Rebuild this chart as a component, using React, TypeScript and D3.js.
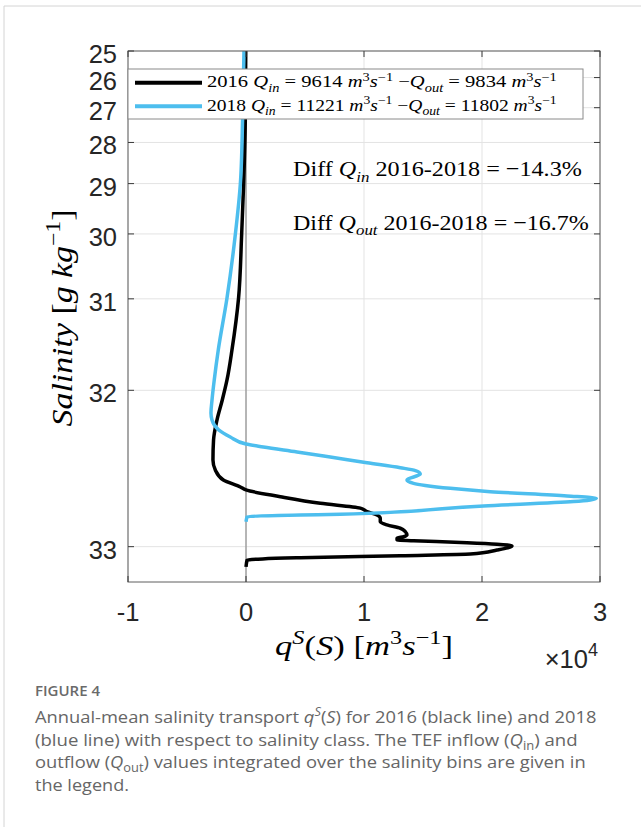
import * as React from 'react';
import { useLayoutEffect, useRef } from 'react';
import * as d3 from 'd3';

// salinity classes on the y axis and transport ticks (x 10^4 m3/s) on the x axis
const salinityTicks = [25, 26, 27, 28, 29, 30, 31, 32, 33];
const transportTicks = [-1, 0, 1, 2, 3];

// 2016 (black line): salinity [g/kg] and q^S [m3/s]
const salinity2016 = [25.0, 27.371, 29.009, 30.019, 30.989, 31.609, 31.906, 32.084, 32.247, 32.395, 32.531, 32.595, 32.656, 32.697, 32.714, 32.752, 32.788, 32.814, 32.832, 32.849, 32.866, 32.883, 32.899, 32.915, 32.931, 32.947, 32.955, 32.962, 32.970, 32.973, 32.982, 32.989, 32.997, 33.015, 33.032, 33.039, 33.048, 33.057, 33.086];
const transport2016 = [-20, -60, -200, -370, -630, -1190, -1610, -2010, -2460, -2750, -2800, -2600, -1920, -480, 0, 2910, 6300, 9690, 10250, 11100, 11380, 11380, 11950, 13080, 13500, 13640, 13360, 12800, 12800, 14200, 18730, 21270, 22540, 21270, 19010, 13080, 4600, 100, 0];

// 2018 (blue line)
const salinity2018 = [25.0, 27.371, 29.009, 30.019, 30.989, 31.609, 31.906, 32.084, 32.191, 32.247, 32.322, 32.374, 32.424, 32.444, 32.478, 32.512, 32.549, 32.581, 32.599, 32.620, 32.656, 32.676, 32.688, 32.705, 32.724, 32.748, 32.761, 32.779, 32.802, 32.846, 32.849, 32.858, 32.883];
const transport2018 = [-170, -290, -480, -910, -1610, -2350, -2690, -2880, -2970, -2880, -2320, -1330, 0, 1470, 4320, 7140, 10250, 13080, 14350, 14770, 13640, 14200, 15190, 17310, 20700, 27200, 29690, 27760, 20140, 7990, 4600, 100, 0];

const years = ['2016', '2018'];
const qIn = ['9614', '11221'];
const qOut = ['9834', '11802'];
const lineColors = ['#000000', '#4DBEEE'];
const diffIn = '−14.3%';
const diffOut = '−16.7%';

const W = 641;
const H = 827;
const left = 128;
const right = 600;
const top = 51;
const bottom = 582;

const serif = '"Liberation Serif", "Times New Roman", serif';
const sans = '"Liberation Sans", Arial, sans-serif';
const captionFont = '"Open Sans", sans-serif';

// the salinity axis is stretched like log(34 - S)
const salRef = 34;
const yLog = d3.scaleLog().domain([salRef - 25, salRef - 33.145]).range([top, bottom]);
const y = (s: number) => yLog(salRef - s);
const x = d3.scaleLinear().domain([-10000, 30000]).range([left, right]);

type Seg = { t: string; i?: boolean; s?: 'sub' | 'sup' };

// stretches its text horizontally (about ox) so it is `width` px wide
function Fit(props: { width: number; ox: number; children: React.ReactNode }) {
  const ref = useRef<SVGGElement>(null);
  useLayoutEffect(() => {
    const g = ref.current;
    if (!g) return;
    g.removeAttribute('transform');
    const w = g.getBBox().width;
    if (w > 0) {
      const k = props.width / w;
      g.setAttribute('transform', `translate(${props.ox},0) scale(${k},1) translate(${-props.ox},0)`);
    }
  });
  return <g ref={ref}>{props.children}</g>;
}

function Rich(props: { segs: Seg[]; x: number; y: number; fs: number; width: number; anchor?: string; family: string; fill?: string }) {
  const { segs, fs } = props;
  let prev = 0;
  return (
    <Fit width={props.width} ox={props.x}>
      <text
        x={props.x}
        y={props.y}
        fontSize={fs}
        fontFamily={props.family}
        fill={props.fill || '#000'}
        textAnchor={props.anchor || 'start'}
        style={{ whiteSpace: 'pre' }}
      >
        {segs.map((seg, k) => {
          const shift = seg.s === 'sub' ? 0.25 * fs : seg.s === 'sup' ? -0.4 * fs : 0;
          const dy = shift - prev;
          prev = shift;
          return (
            <tspan
              key={k}
              dy={dy !== 0 ? dy : undefined}
              fontSize={seg.s ? fs * 0.7 : undefined}
              fontStyle={seg.i ? 'italic' : undefined}
            >
              {seg.t}
            </tspan>
          );
        })}
      </text>
    </Fit>
  );
}

function legendSegs(k: number): Seg[] {
  return [
    { t: years[k] + ' ' }, { t: 'Q', i: true }, { t: 'in', i: true, s: 'sub' },
    { t: ' = ' + qIn[k] + ' ' }, { t: 'm', i: true }, { t: '3', s: 'sup' }, { t: 's', i: true }, { t: '−1', s: 'sup' },
    { t: ' −' }, { t: 'Q', i: true }, { t: 'out', i: true, s: 'sub' },
    { t: ' = ' + qOut[k] + ' ' }, { t: 'm', i: true }, { t: '3', s: 'sup' }, { t: 's', i: true }, { t: '−1', s: 'sup' },
  ];
}

const captionLines: Seg[][] = [
  [{ t: 'Annual-mean salinity transport ' }, { t: 'q', i: true }, { t: 'S', i: true, s: 'sup' }, { t: '(' }, { t: 'S', i: true }, { t: ') for 2016 (black line) and 2018' }],
  [{ t: '(blue line) with respect to salinity class. The TEF inflow (' }, { t: 'Q', i: true }, { t: 'in', s: 'sub' }, { t: ') and' }],
  [{ t: 'outflow (' }, { t: 'Q', i: true }, { t: 'out', s: 'sub' }, { t: ') values integrated over the salinity bins are given in' }],
  [{ t: 'the legend.' }],
];
const captionWidths = [562, 543, 551, 94];

export default function App() {
  const line = d3.line<[number, number]>()
    .x((d) => x(d[1]))
    .y((d) => y(d[0]))
    .curve(d3.curveMonotoneY);

  const series = [
    d3.zip(salinity2016, transport2016) as [number, number][],
    d3.zip(salinity2018, transport2018) as [number, number][],
  ];

  const tick = 6;

  return (
    <svg width={W} height={H} style={{ position: 'absolute', left: 0, top: 0, background: '#fff' }}>
      <path d={`M4,${H} V6 H${W}`} fill="none" stroke="#d4d4d4" strokeWidth={1} />

      <defs>
        <clipPath id="plotArea">
          <rect x={left} y={top} width={right - left} height={bottom - top} />
        </clipPath>
      </defs>

      {/* grid */}
      {salinityTicks.map((s) => (
        <line key={'gy' + s} x1={left} x2={right} y1={y(s)} y2={y(s)} stroke="#e3e3e3" />
      ))}
      {transportTicks.map((t) => (
        <line key={'gx' + t} x1={x(t * 1e4)} x2={x(t * 1e4)} y1={top} y2={bottom} stroke="#e3e3e3" />
      ))}
      <line x1={x(0)} x2={x(0)} y1={top} y2={bottom} stroke="#7a7a7a" strokeWidth={1} />

      {/* curves */}
      <g clipPath="url(#plotArea)">
        {series.map((d, k) => (
          <path key={k} d={line(d) || ''} fill="none" stroke={lineColors[k]} strokeWidth={3.5} strokeLinejoin="round" />
        ))}
      </g>

      {/* axes box and inward ticks */}
      <rect x={left} y={top} width={right - left} height={bottom - top} fill="none" stroke="#5e5e5e" strokeWidth={1} />
      {salinityTicks.map((s) => (
        <g key={'ty' + s} stroke="#3a3a3a">
          <line x1={left} x2={left + tick} y1={y(s)} y2={y(s)} />
          <line x1={right - tick} x2={right} y1={y(s)} y2={y(s)} />
        </g>
      ))}
      {transportTicks.map((t) => (
        <g key={'tx' + t} stroke="#3a3a3a">
          <line x1={x(t * 1e4)} x2={x(t * 1e4)} y1={bottom} y2={bottom - tick} />
          <line x1={x(t * 1e4)} x2={x(t * 1e4)} y1={top} y2={top + tick} />
        </g>
      ))}

      {/* tick labels */}
      {salinityTicks.map((s) => (
        <text key={'ly' + s} x={117} y={y(s) + 12} textAnchor="end" fontSize={25.5} fontFamily={sans} fill="#262626">
          {s}
        </text>
      ))}
      {transportTicks.map((t) => (
        <text key={'lx' + t} x={x(t * 1e4)} y={621} textAnchor="middle" fontSize={25.5} fontFamily={sans} fill="#262626">
          {t}
        </text>
      ))}
      <text x={598} y={668} textAnchor="end" fontSize={25.5} fontFamily={sans} fill="#262626">
        ×10<tspan fontSize={18} dy={-12}>4</tspan>
      </text>

      {/* axis labels */}
      <Rich
        x={364}
        y={655}
        fs={28}
        width={178}
        anchor="middle"
        family={serif}
        segs={[{ t: 'q', i: true }, { t: 'S', i: true, s: 'sup' }, { t: '(' }, { t: 'S', i: true }, { t: ') [' }, { t: 'm', i: true }, { t: '3', s: 'sup' }, { t: 's', i: true }, { t: '−1', s: 'sup' }, { t: ']' }]}
      />
      <g transform="translate(72,318) rotate(-90)">
        <Rich
          x={0}
          y={0}
          fs={29}
          width={217}
          anchor="middle"
          family={serif}
          segs={[{ t: 'Salinity', i: true }, { t: ' [' }, { t: 'g', i: true }, { t: ' ' }, { t: 'kg', i: true }, { t: '−1', s: 'sup' }, { t: ']' }]}
        />
      </g>

      {/* legend */}
      <rect x={left} y={69} width={455} height={50} fill="#fff" stroke="#8a8a8a" strokeWidth={1} />
      {years.map((yr, k) => (
        <g key={yr}>
          <line x1={135} x2={202} y1={82.7 + k * 23.5} y2={82.7 + k * 23.5} stroke={lineColors[k]} strokeWidth={4} />
          <Rich x={207} y={87.5 + k * 23.5} fs={17} width={350} family={serif} segs={legendSegs(k)} />
        </g>
      ))}

      {/* differences */}
      <Rich x={293} y={176.5} fs={22} width={289} family={serif}
        segs={[{ t: 'Diff ' }, { t: 'Q', i: true }, { t: 'in', i: true, s: 'sub' }, { t: ' 2016-2018 = ' + diffIn }]} />
      <Rich x={293} y={230} fs={22} width={296} family={serif}
        segs={[{ t: 'Diff ' }, { t: 'Q', i: true }, { t: 'out', i: true, s: 'sub' }, { t: ' 2016-2018 = ' + diffOut }]} />

      {/* caption */}
      <text x={35} y={696} fontSize={15} fontWeight={600} fontFamily={captionFont} fill="#6a6a6a">
        FIGURE 4
      </text>
      {captionLines.map((segs, k) => (
        <Rich key={k} x={35} y={723 + k * 22.6} fs={17} width={captionWidths[k]} family={captionFont} fill="#666" segs={segs} />
      ))}
    </svg>
  );
}
